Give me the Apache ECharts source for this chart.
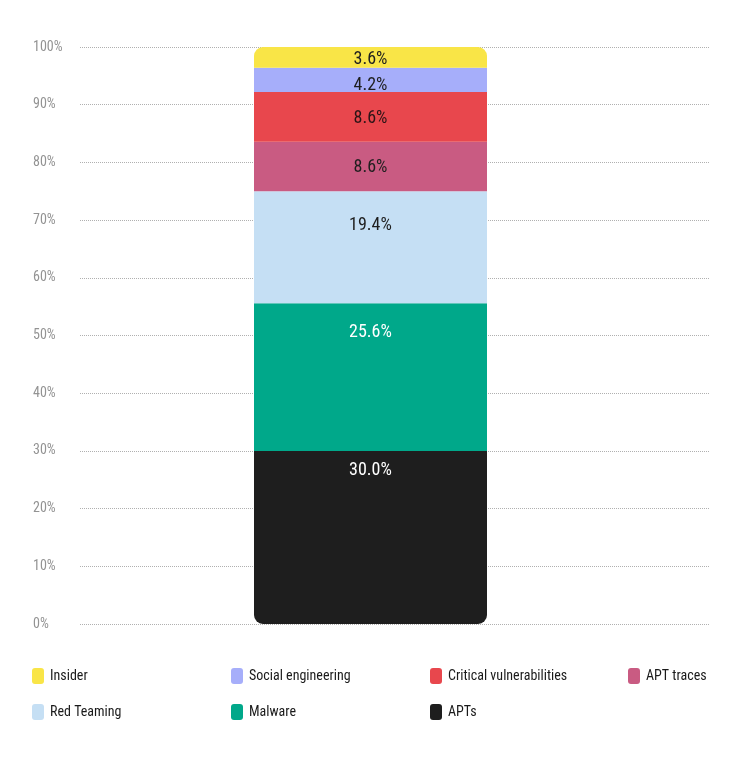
<!DOCTYPE html>
<html>
<head>
<meta charset="utf-8">
<script src="https://cdn.jsdelivr.net/npm/echarts@6/dist/echarts.min.js"></script>
<style>
html,body{margin:0;padding:0;background:#fff;}
#chart{width:741px;height:758px;}
</style>
</head>
<body>
<div id="chart"></div>
<script>
// Data (stacked bottom to top)
const seriesNames = ["APTs", "Malware", "Red Teaming", "APT traces", "Critical vulnerabilities", "Social engineering", "Insider"];
const seriesValues = [30.0, 25.6, 19.4, 8.6, 8.6, 4.2, 3.6];
const seriesColors = ["#1e1e1e", "#00a88a", "#c5dff4", "#c95b82", "#e8474d", "#a6aefa", "#f9e547"];
const labelColors = ["#ffffff", "#ffffff", "#1e1e1e", "#1e1e1e", "#2a1416", "#1e1e1e", "#1e1e1e"];
const labelDistances = [11, 20, 25, 17, 17, 9, 3];
const category = ["Share"];
const yTicks = [0, 10, 20, 30, 40, 50, 60, 70, 80, 90, 100];

// Legend layout order (row by row)
const legendOrder = ["Insider", "Social engineering", "Critical vulnerabilities", "APT traces", "Red Teaming", "Malware", "APTs"];
const legendPos = [[32, 668], [231, 668], [430, 668], [628, 668], [32, 704], [231, 704], [430, 704]];

const FONT = '"Liberation Sans Narrow", "Arial Narrow", "Roboto Condensed", Inter, sans-serif';

const chart = echarts.init(document.getElementById('chart'), null, {renderer: 'canvas'});

const series = seriesNames.map((name, i) => {
  let radius = 0;
  if (i === seriesNames.length - 1) radius = [9, 9, 0, 0];
  if (i === 0) radius = [0, 0, 9, 9];
  return {
    name: name,
    type: 'bar',
    stack: 'total',
    xAxisIndex: 1,
    yAxisIndex: 1,
    barWidth: 233,
    data: [seriesValues[i]],
    itemStyle: {color: seriesColors[i], borderRadius: radius},
    label: {
      show: true,
      position: 'insideTop',
      distance: labelDistances[i],
      formatter: (p) => p.value.toFixed(1) + '%',
      color: labelColors[i],
      fontSize: 18,
      fontFamily: FONT
    },
    emphasis: {disabled: true}
  };
});

const legends = legendOrder.map((name, i) => ({
  data: [name],
  left: legendPos[i][0],
  top: legendPos[i][1],
  orient: 'horizontal',
  padding: 0,
  icon: 'roundRect',
  itemWidth: 12,
  itemHeight: 16,
  itemGap: 0,
  selectedMode: false,
  textStyle: {color: '#1a1a1a', fontSize: 14, fontFamily: FONT, padding: [0, 0, 0, 1]}
}));

chart.setOption({
  backgroundColor: '#ffffff',
  animation: false,
  legend: legends,
  grid: [
    {left: 80, right: 31, top: 47, bottom: 134},
    {left: 80, right: 80, top: 47, bottom: 134}
  ],
  xAxis: [
    {type: 'category', gridIndex: 0, data: category, show: false},
    {type: 'category', gridIndex: 1, data: category, show: false}
  ],
  yAxis: [
    {
      type: 'value', gridIndex: 0, min: 0, max: 100, interval: 10,
      axisLine: {show: false}, axisTick: {show: false},
      axisLabel: {
        formatter: (v) => yTicks.includes(v) ? v + '%' : '',
        color: '#939393', fontSize: 14, fontFamily: FONT,
        align: 'left', margin: 47
      },
      splitLine: {show: true, lineStyle: {color: '#b0b0b0', type: [1, 1], width: 1}}
    },
    {
      type: 'value', gridIndex: 1, min: 0, max: 100, show: false,
      splitLine: {show: false}
    }
  ],
  series: series
});
</script>
</body>
</html>
